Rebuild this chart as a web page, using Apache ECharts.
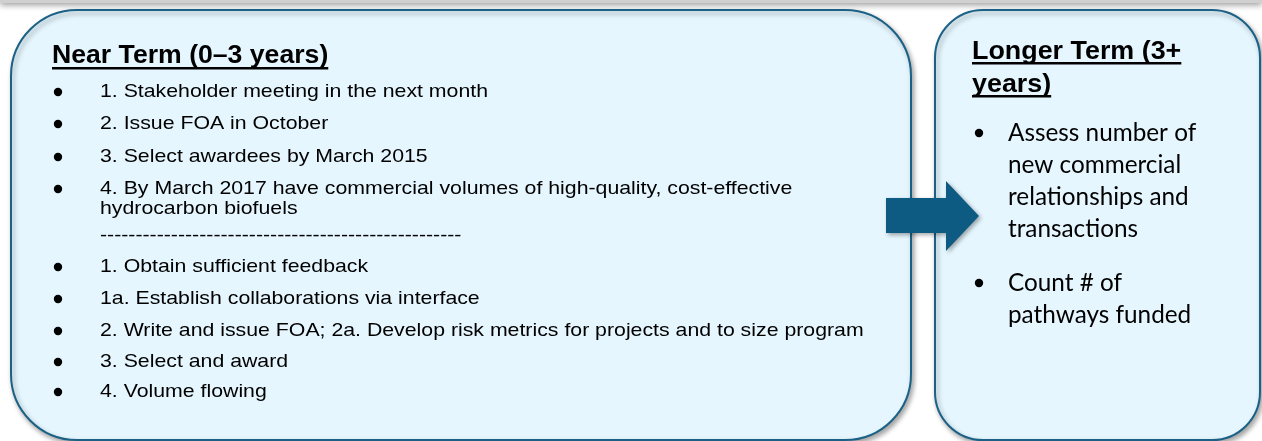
<!DOCTYPE html>
<html>
<head>
<meta charset="utf-8">
<script src="https://cdn.jsdelivr.net/npm/echarts@6/dist/echarts.min.js"></script>
<style>
html,body{margin:0;padding:0;background:#ffffff;}
#chart{width:1262px;height:441px;}
</style>
</head>
<body>
<div id="chart"></div>
<script>
// ---- Data (text content) ----
const nearTitle = "Near Term (0\u20133 years)";
const nearItems = [
  "1. Stakeholder meeting in the next month",
  "2. Issue FOA in October",
  "3. Select awardees by March 2015",
  "4. By March 2017 have commercial volumes of high-quality, cost-effective\nhydrocarbon biofuels",
  "---------------------------------------------------",
  "1. Obtain sufficient feedback",
  "1a. Establish collaborations via interface",
  "2. Write and issue FOA; 2a. Develop risk metrics for projects and to size program",
  "3. Select and award",
  "4. Volume flowing"
];
const nearHasBullet = [true, true, true, true, false, true, true, true, true, true];
const longTitleLines = ["Longer Term (3+", "years)"];
const longItems = [
  "Assess number of\nnew commercial\nrelationships and\ntransactions",
  "Count # of\npathways funded"
];

// ---- Layout / style ----
const BOX_FILL = "#e5f6fe";
const BOX_STROKE = "#1b6186";
const ARROW = "#0d5b82";
const ARIAL = "'Liberation Sans', Arial, sans-serif";
const CAL = "Lato, 'Open Sans', sans-serif";
const nearRowY = [92, 124, 157, 189, 236, 267, 299, 331, 362, 392];
const longRowY = [133, 283];

const cv = document.createElement('canvas').getContext('2d');
function measure(text, font) { cv.font = font; return cv.measureText(text).width; }

const els = [];
// top gray strip
els.push({type:'rect', shape:{x:0,y:-6,width:1262,height:9}, style:{fill:'#d0d0d0', shadowBlur:6, shadowColor:'rgba(0,0,0,0.4)', shadowOffsetY:2}, z:1});

function box(x,y,w,h,r){
  return {type:'rect', shape:{x:x,y:y,width:w,height:h,r:r},
    style:{fill:BOX_FILL, stroke:BOX_STROKE, lineWidth:2, shadowBlur:5, shadowOffsetX:2, shadowOffsetY:3, shadowColor:'rgba(0,0,0,0.35)'}, z:2};
}
els.push(box(11,10,900,430,66));
els.push(box(935,10,325,430,48));

// arrow
els.push({type:'polygon', shape:{points:[[886,198],[946,198],[946,181],[979,216],[946,251],[946,233],[886,233]]},
  style:{fill:ARROW, shadowBlur:4, shadowOffsetX:2, shadowOffsetY:2, shadowColor:'rgba(0,0,0,0.35)'}, z:3});

function addText(str, x, y, size, weight, family, sx, lh){
  els.push({type:'text', x:x, y:y, scaleX:sx, z:5,
    style:{text:str, x:0, y:0, fontSize:size, fontWeight:weight, fontFamily:family, fill:'#000000',
      verticalAlign:'middle', align:'left', lineHeight:lh||size*1.2}});
}
function underline(str, x, y, size, weight, family, sx, thick){
  const w = measure(str, weight+' '+size+'px '+family) * sx;
  els.push({type:'rect', shape:{x:x, y:y, width:w, height:thick}, style:{fill:'#000'}, z:5});
}

// Near term title
const tSize = 25, tSx = 1.065;
addText(nearTitle, 52, 56, tSize, 'bold', ARIAL, tSx);
underline(nearTitle, 52, 67, tSize, 'bold', ARIAL, tSx, 2.4);

// Near term items
const bSize = 19, bSx = 1.12;
nearItems.forEach(function(t, i){
  const lines = t.split('\n').length;
  const y0 = nearRowY[i];
  addText(t, 100, y0 + (lines-1)*10, bSize, 'normal', ARIAL, bSx, 20);
  if (nearHasBullet[i]) {
    els.push({type:'circle', shape:{cx:58, cy:y0, r:4.2}, style:{fill:'#000'}, z:5});
  }
});

// Longer term title
const lSize = 25, lSx = 1.075;
longTitleLines.forEach(function(t, i){
  const y = 52 + i*33;
  addText(t, 972, y, lSize, 'bold', ARIAL, lSx);
  underline(t, 972, y + 10, lSize, 'bold', ARIAL, lSx, 2.4);
});

// Longer term items
const cSize = 24.3, cSx = 1.0;
longItems.forEach(function(t, i){
  const lines = t.split('\n').length;
  const y0 = longRowY[i];
  addText(t, 1008, y0 + (lines-1)*16, cSize, 'normal', CAL, cSx, 32);
  els.push({type:'circle', shape:{cx:979, cy:y0, r:4.2}, style:{fill:'#000'}, z:5});
});

const chart = echarts.init(document.getElementById('chart'), null, {renderer:'canvas'});
chart.setOption({backgroundColor:'#ffffff', animation:false, graphic:{elements:els}});
</script>
</body>
</html>
